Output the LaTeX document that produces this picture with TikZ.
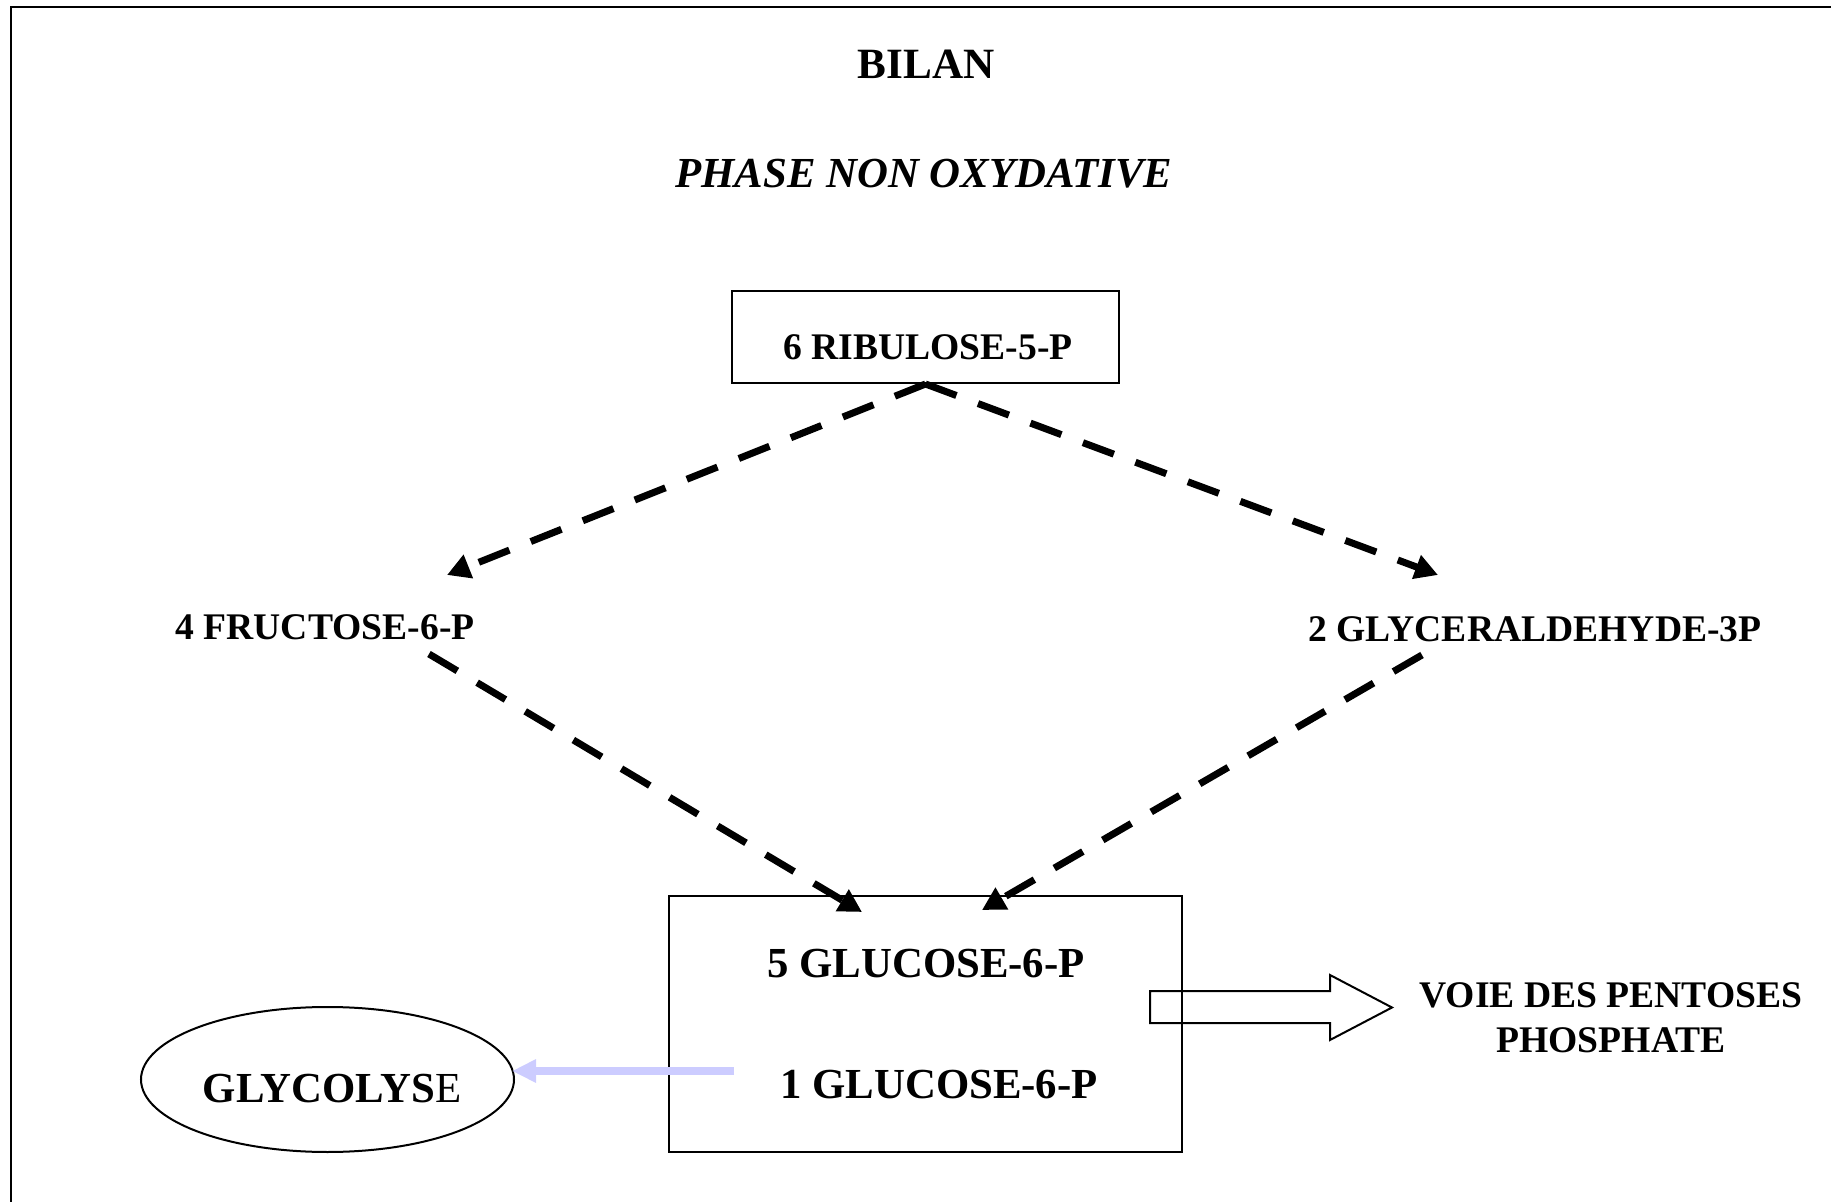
\documentclass[tikz,border=0pt]{standalone}
\usepackage{fontspec}
\setmainfont{Liberation Serif}
\usetikzlibrary{arrows.meta,shapes.geometric}
\definecolor{lav}{RGB}{204,204,255}
\tikzset{
  lbl/.style={font=\fontsize{18.8}{22.5}\selectfont\bfseries, inner sep=0pt},
  biglbl/.style={font=\fontsize{21.4}{25}\selectfont\bfseries, inner sep=0pt},
  ttl/.style={font=\fontsize{21.6}{25}\selectfont\bfseries, inner sep=0pt},
  ttlit/.style={font=\fontsize{21.4}{25}\selectfont\bfseries\itshape, inner sep=0pt},
  flow/.style={line width=3.5pt, dash pattern=on 16.5pt off 11.5pt,
    -{Triangle[length=11.5pt,width=12pt]}},
  boxed/.style={draw, line width=1pt, inner sep=0pt},
  blockarrow/.style={draw, line width=1pt, line join=miter},
  feed/.style={draw=lav, line width=3.6pt, -{Triangle[length=12pt,width=11pt]}}
}
\begin{document}
\begin{tikzpicture}[x=0.5pt,y=-0.5pt]
\useasboundingbox (0,0) rectangle (1831,1202);
% outer frame (left and top edges visible)
\draw[line width=1.2pt] (11,1260) -- (11,7) -- (1880,7);

% titles
\node[ttl] (bilan) at (926,64.5) {BILAN};
\node[ttlit] (phase) at (924,174) {PHASE NON OXYDATIVE};

% ribulose
\node[boxed, minimum width=193.5pt, minimum height=46pt] (ribbox) at (925.5,337) {};
\node[lbl] (rib) at (928,347) {6 RIBULOSE-5-P};

% intermediates
\node[lbl] (fru) at (325,627) {4 FRUCTOSE-6-P};
\node[lbl] (gly) at (1535,629) {2 GLYCERALDEHYDE-3P};

% glucose box
\node[boxed, minimum width=256.5pt, minimum height=128pt] (glubox) at (925.5,1023.5) {};
\node[biglbl] (g5) at (926,963.5) {5 GLUCOSE-6-P};
\node[biglbl] (g1) at (939,1084.5) {1 GLUCOSE-6-P};

% glycolyse
\node[boxed, ellipse, minimum width=186.5pt, minimum height=72.5pt] (glyco) at (327.5,1079.5) {};
\node[biglbl] (glycot) at (332,1089) {GLYCOLYS{\mdseries E}};

% pentoses
\node[lbl, align=center] (voie) at (1611,1018) {VOIE DES PENTOSES\\PHOSPHATE};

% connector end points
\coordinate (fruin) at (447,575);
\coordinate (glyin) at (1438,575);
\coordinate (fruout) at (429,654);
\coordinate (glyout) at (1422,655);
\coordinate (gluinL) at (862,912);
\coordinate (gluinR) at (982,910);
\coordinate (bluestart) at (734,1071);
\coordinate (blueend) at (512,1071);

% dashed arrows
\draw[flow] (ribbox.south) -- (fruin);
\draw[flow] (ribbox.south) -- (glyin);
\draw[flow] (fruout) -- (gluinL);
\draw[flow] (glyout) -- (gluinR);

% lavender arrow to glycolyse
\draw[feed] (bluestart) -- (blueend);

% hollow block arrow
\draw[blockarrow] (1150,991) -- (1330,991) -- (1330,975) -- (1392,1007.5)
  -- (1330,1040) -- (1330,1023) -- (1150,1023) -- cycle;
\end{tikzpicture}
\end{document}
